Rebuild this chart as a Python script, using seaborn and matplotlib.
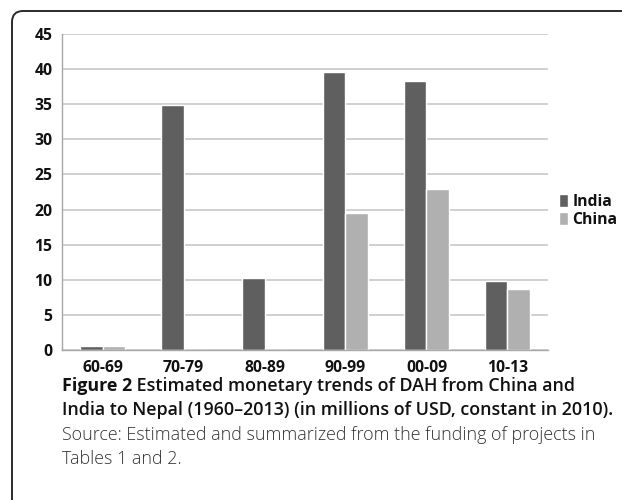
import matplotlib
matplotlib.use("Agg")
import matplotlib.pyplot as plt
import matplotlib.transforms as mtransforms
import seaborn as sns
import pandas as pd
from matplotlib.path import Path
from matplotlib.patches import PathPatch

periods = ["60-69", "70-79", "80-89", "90-99", "00-09", "10-13"]
india = [0.6, 34.9, 10.2, 39.6, 38.3, 9.8]
china = [0.5, 0.0, 0.0, 19.5, 22.9, 8.7]
y_ticks = [0, 5, 10, 15, 20, 25, 30, 35, 40, 45]

df = pd.DataFrame({
    "period": periods * 2,
    "value": india + china,
    "country": ["India"] * len(periods) + ["China"] * len(periods),
})

sns.set_style("white")
plt.rcParams["font.family"] = ["Open Sans", "DejaVu Sans"]

fig = plt.figure(figsize=(6.22, 5.0), dpi=100)
ax = fig.add_axes([0.0997, 0.30, 0.881 - 0.0997, 0.632])

sns.barplot(data=df, x="period", y="value", hue="country",
            palette={"India": "#5f5f5f", "China": "#b0b0b0"},
            width=0.56, saturation=1, ax=ax, legend=True)

ax.set_xlim(-0.5, 5.5)
ax.set_ylim(0, 45)
ax.set_yticks(y_ticks)
ax.yaxis.grid(True, color="#c4c4c4", linewidth=1.1)
ax.set_axisbelow(True)
ax.set_xlabel("")
ax.set_ylabel("")

for s in ["top", "right"]:
    ax.spines[s].set_visible(False)
for s in ["left", "bottom"]:
    ax.spines[s].set_color("#a8a8a8")
    ax.spines[s].set_linewidth(1.0)

# x ticks sit between categories, labels centred under groups
ax.set_xticks(list(range(len(periods))))
ax.set_xticklabels(periods)
ax.tick_params(axis="x", length=0, pad=7, labelsize=11.3, labelcolor="#111111")
ax.set_xticks([i - 0.5 for i in range(len(periods) + 1)], minor=True)
ax.tick_params(axis="x", which="minor", length=5, color="#a8a8a8", direction="out")
ax.tick_params(axis="y", length=5, color="#a8a8a8", direction="out",
               labelsize=11.3, labelcolor="#111111", pad=2)
for lab in ax.get_xticklabels() + ax.get_yticklabels():
    lab.set_fontweight("bold")

leg = ax.legend(loc="center left", bbox_to_anchor=(1.0, 0.44), frameon=False,
                handlelength=0.6, handleheight=0.9, handletextpad=0.25,
                labelspacing=0.15, fontsize=11.3, borderaxespad=0.3)
for txt in leg.get_texts():
    txt.set_fontweight("bold")
    txt.set_color("#111111")

# frame: left edge and top edge with a rounded corner (pixel coords, y up)
r = 11
verts = [(12, -5), (12, 489 - r), (12, 489), (12 + r, 489), (640, 489)]
codes = [Path.MOVETO, Path.LINETO, Path.CURVE3, Path.CURVE3, Path.LINETO]
frame = PathPatch(Path(verts, codes), transform=mtransforms.IdentityTransform(),
                  fill=False, edgecolor="#2a2a2a", linewidth=1.4, clip_on=False)
fig.patches.append(frame)

# caption
cap_size = 12.9
t1 = fig.text(62 / 622, 1 - 386 / 500, "Figure 2", fontsize=cap_size,
              fontweight="bold", va="center", ha="left", color="#111111")
ax.annotate(" Estimated monetary trends of DAH from China and",
            xy=(1, 0), xycoords=t1, va="bottom", ha="left",
            fontsize=cap_size, fontweight="semibold", color="#111111",
            annotation_clip=False)
fig.text(62 / 622, 1 - 410 / 500,
         "India to Nepal (1960\u20132013) (in millions of USD, constant in 2010).",
         fontsize=cap_size, fontweight="semibold", va="center", ha="left",
         color="#111111")
fig.text(62 / 622, 1 - 435 / 500,
         "Source: Estimated and summarized from the funding of projects in",
         fontsize=cap_size, fontweight="light", va="center", ha="left",
         color="#333333")
fig.text(62 / 622, 1 - 459 / 500, "Tables 1 and 2.",
         fontsize=cap_size, fontweight="light", va="center", ha="left",
         color="#333333")

fig.savefig("out.png", dpi=100)
